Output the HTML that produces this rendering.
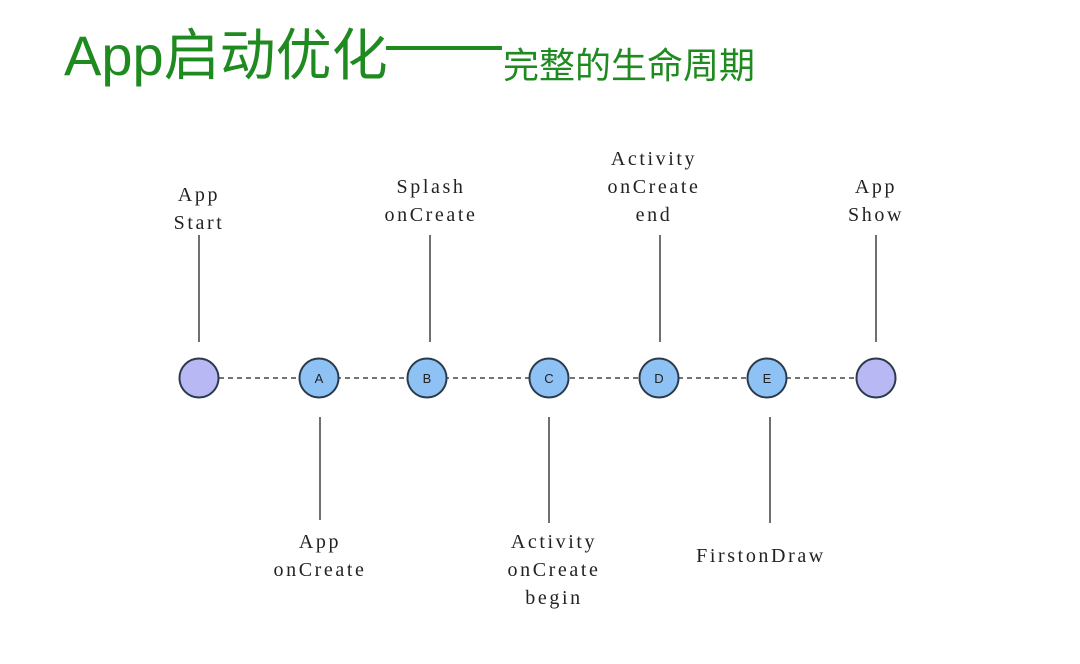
<!DOCTYPE html>
<html><head><meta charset="utf-8"><style>
html,body{margin:0;padding:0;background:#fff;}
svg{display:block}
</style></head><body>
<svg width="1080" height="664" viewBox="0 0 1080 664" xmlns="http://www.w3.org/2000/svg">
<rect width="1080" height="664" fill="#fff"/>
<text x="64" y="75" font-family="'Liberation Sans','Noto Sans CJK SC',sans-serif" font-size="56" fill="#1f8a1f">App启动优化</text>
<rect x="386" y="46" width="116" height="4" fill="#1f8a1f"/>
<text x="503" y="78" font-family="'Liberation Sans','Noto Sans CJK SC',sans-serif" font-size="36" fill="#1f8a1f">完整的生命周期</text>

<line x1="219" y1="378" x2="856" y2="378" stroke="#222" stroke-width="1.3" stroke-dasharray="5,4"/>
<g stroke="#222" stroke-width="1.3">
<line x1="199" y1="235" x2="199" y2="342"/>
<line x1="430" y1="235" x2="430" y2="342"/>
<line x1="660" y1="235" x2="660" y2="342"/>
<line x1="876" y1="235" x2="876" y2="342"/>
<line x1="320" y1="417" x2="320" y2="520"/>
<line x1="549" y1="417" x2="549" y2="523"/>
<line x1="770" y1="417" x2="770" y2="523"/>
</g>
<g stroke="#2a3a4a" stroke-width="2">
<circle cx="199" cy="378" r="19.5" fill="#b8b8f4"/>
<circle cx="876" cy="378" r="19.5" fill="#b8b8f4"/>
<circle cx="319" cy="378" r="19.5" fill="#8fc2f4"/>
<circle cx="427" cy="378" r="19.5" fill="#8fc2f4"/>
<circle cx="549" cy="378" r="19.5" fill="#8fc2f4"/>
<circle cx="659" cy="378" r="19.5" fill="#8fc2f4"/>
<circle cx="767" cy="378" r="19.5" fill="#8fc2f4"/>
</g>
<g font-family="'Liberation Sans',sans-serif" font-size="13" fill="#222" text-anchor="middle">
<text x="319" y="383">A</text><text x="427" y="383">B</text><text x="549" y="383">C</text><text x="659" y="383">D</text><text x="767" y="383">E</text>
</g>
<g font-family="'Liberation Serif',serif" font-size="20" fill="#222" text-anchor="middle" letter-spacing="2.6">
<text x="199" y="201">App</text><text x="199" y="229">Start</text>
<text x="431" y="193">Splash</text><text x="431" y="221">onCreate</text>
<text x="654" y="165">Activity</text><text x="654" y="193">onCreate</text><text x="654" y="221">end</text>
<text x="876" y="193">App</text><text x="876" y="221">Show</text>
<text x="320" y="548">App</text><text x="320" y="576">onCreate</text>
<text x="554" y="548">Activity</text><text x="554" y="576">onCreate</text><text x="554" y="604">begin</text>
<text x="761" y="562">FirstonDraw</text>
</g>
</svg>
</body></html>
